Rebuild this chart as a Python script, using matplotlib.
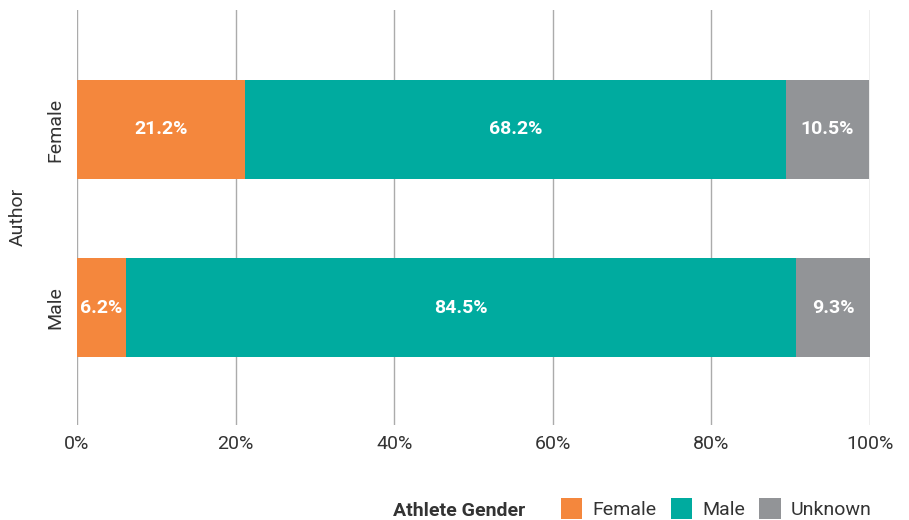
import matplotlib.pyplot as plt
from matplotlib.patches import Patch
import numpy as np

plt.rcParams['font.family'] = ['Roboto', 'DejaVu Sans']

authors = ['Male', 'Female']
genders = ['Female', 'Male', 'Unknown']
female_pct = [6.2, 21.2]
male_pct = [84.5, 68.2]
unknown_pct = [9.3, 10.5]
colors = ['#F4873D', '#00AB9F', '#929497']
text_col = '#333333'

fig = plt.figure(figsize=(9.09, 5.2), dpi=100)
ax = fig.add_axes([0.0847, 0.183, 0.8724, 0.798])

y = np.arange(len(authors))
left = np.zeros(len(authors))
for vals, col in zip([female_pct, male_pct, unknown_pct], colors):
    vals = np.array(vals)
    ax.barh(y, vals, left=left, height=0.555, color=col, zorder=2)
    for yi, l, v in zip(y, left, vals):
        ax.text(l + v / 2, yi, f'{v:.1f}%', ha='center', va='center',
                color='white', fontsize=14, fontweight='bold', zorder=3)
    left += vals

ax.set_xlim(0, 100)
ax.set_ylim(-0.655, 1.67)
ax.set_xticks(range(0, 101, 20))
ax.set_xticklabels([f'{t}%' for t in range(0, 101, 20)])
ax.set_yticks(y)
ax.set_yticklabels(authors, rotation=90, va='center')
ax.tick_params(axis='both', length=0, labelsize=14, colors=text_col, labelcolor=text_col)
ax.tick_params(axis='x', pad=7)
ax.tick_params(axis='y', pad=9)
ax.grid(axis='x', color='#ABABAB', linewidth=1, zorder=0)
for s in ax.spines.values():
    s.set_visible(False)
ax.set_ylabel('Author', fontsize=14, color=text_col, labelpad=14)

# legend at bottom
fig.text(0.578, 0.008, 'Athlete Gender', fontsize=14, fontweight='bold',
         color=text_col, ha='right', va='baseline')
handles = [Patch(facecolor=c, edgecolor='none') for c in colors]
leg = fig.legend(handles, genders, loc='lower left', bbox_to_anchor=(0.598, -0.032),
                 ncol=3, frameon=False, fontsize=14, handlelength=1.1, handleheight=1.3,
                 handletextpad=0.5, columnspacing=0.75)
for t in leg.get_texts():
    t.set_color(text_col)

fig.savefig('out.png', dpi=100)
